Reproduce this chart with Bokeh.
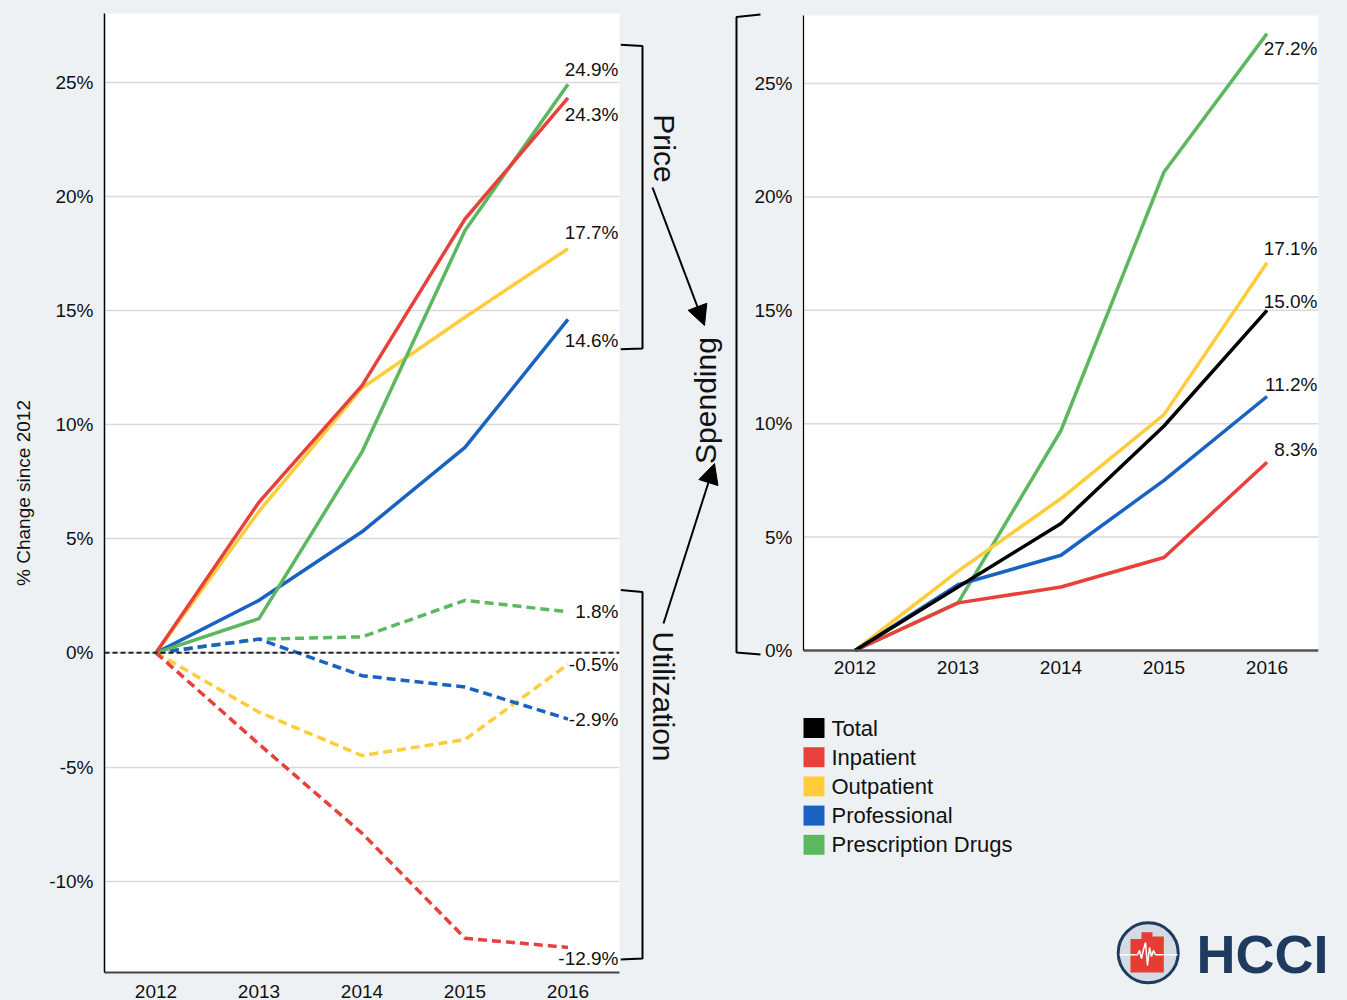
import math
from bokeh.plotting import figure
from bokeh.layouts import row, column
from bokeh.models import (Range1d, FixedTicker, PrintfTickFormatter, Span, Arrow,
                          NormalHead, ColumnDataSource, BoxAnnotation, LinearAxis)
from bokeh.core.properties import value
from bokeh.embed import file_html
from bokeh.resources import INLINE

# ---------------- data ----------------
years = [2012, 2013, 2014, 2015, 2016]
series = ["Total", "Inpatient", "Outpatient", "Professional", "Prescription Drugs"]

price_inpatient = [0, 6.6, 11.7, 19.0, 24.3]
price_outpatient = [0, 6.2, 11.6, 14.7, 17.7]
price_professional = [0, 2.3, 5.3, 9.0, 14.6]
price_rx = [0, 1.5, 8.8, 18.5, 24.9]

util_inpatient = [0, -4.0, -7.9, -12.5, -12.9]
util_outpatient = [0, -2.6, -4.5, -3.8, -0.5]
util_professional = [0, 0.6, -1.0, -1.5, -2.9]
util_rx = [0, 0.6, 0.7, 2.3, 1.8]

spend_total = [0, 2.8, 5.6, 9.9, 15.0]
spend_inpatient = [0, 2.1, 2.8, 4.1, 8.3]
spend_outpatient = [0, 3.5, 6.7, 10.4, 17.1]
spend_professional = [0, 2.9, 4.2, 7.5, 11.2]
spend_rx = [0, 2.1, 9.7, 21.1, 27.2]

left_ticks = [-10, -5, 0, 5, 10, 15, 20, 25]
right_ticks = [0, 5, 10, 15, 20, 25]
y_title = "% Change since 2012"
price_word, util_word, spend_word = "Price", "Utilization", "Spending"
brand = "HCCI"

# ---------------- styles ----------------
BG = "#edf1f4"
FONT = "Liberation Sans"
colors = {"Total": "#000000", "Inpatient": "#e8403a", "Outpatient": "#ffcd3a",
          "Professional": "#1862c2", "Prescription Drugs": "#5cb85f"}
GRID = "#d9d9d9"
TXT = "#111111"
LW = 3.5
X_LO, X_HI = 2011.5, 2016.5


def style_axis(ax):
    ax.major_tick_line_color = None
    ax.minor_tick_line_color = None
    ax.major_label_text_font = FONT
    ax.major_label_text_font_size = "19px"
    ax.major_label_text_color = TXT


def style_axes(p):
    p.xaxis.ticker = FixedTicker(ticks=years)
    p.xaxis.formatter = PrintfTickFormatter(format="%d")
    p.yaxis.formatter = PrintfTickFormatter(format="%d%%")
    for ax in (p.xaxis[0], p.yaxis[0]):
        style_axis(ax)
    p.xaxis.major_label_standoff = 6
    p.yaxis.major_label_standoff = 5
    p.yaxis.axis_line_color = "black"
    p.yaxis.axis_line_width = 1.5
    p.xaxis.axis_line_color = "#444444"
    p.xaxis.axis_line_width = 2
    p.border_fill_color = BG
    p.outline_line_color = None


def blank_fig(p):
    p.axis.visible = False
    p.grid.visible = False
    p.outline_line_color = None
    p.background_fill_color = BG
    p.border_fill_color = BG


def Y(sy):
    return 1000 - sy


# ---------------- left chart ----------------
left = figure(width=620, height=1000, x_range=Range1d(X_LO, X_HI),
              y_range=Range1d(-14, 28), output_backend="svg", toolbar_location=None,
              min_border_left=104, min_border_right=1, min_border_top=13,
              min_border_bottom=27, frame_align=False)
style_axes(left)
left.background_fill_color = "white"
left.xgrid.grid_line_color = None
left.ygrid.grid_line_color = GRID
left.ygrid.grid_line_width = 1.5
left.yaxis.ticker = FixedTicker(ticks=left_ticks)
left.yaxis.axis_label = y_title
left.yaxis.axis_label_text_font = FONT
left.yaxis.axis_label_text_font_style = "normal"
left.yaxis.axis_label_text_font_size = "19px"
left.yaxis.axis_label_text_color = TXT
left.yaxis.axis_label_standoff = 12

left.add_layout(Span(location=0, dimension="width", line_color="#222222",
                     line_width=2, line_dash="5 3"))

util = [("Inpatient", util_inpatient, -11), ("Outpatient", util_outpatient, 0),
        ("Professional", util_professional, 0), ("Prescription Drugs", util_rx, 0)]
for name, vals, _ in [util[3], util[1], util[2], util[0]]:
    left.line(years, vals, line_color=colors[name], line_width=LW, line_dash="9 5")

price = [("Outpatient", price_outpatient, 16), ("Professional", price_professional, -21),
         ("Prescription Drugs", price_rx, 15), ("Inpatient", price_inpatient, -17)]
for name, vals, _ in price:
    left.line(years, vals, line_color=colors[name], line_width=LW)

lab_src = ColumnDataSource(dict(
    x=[X_HI] * 8,
    y=[v[-1] for _, v, _ in price] + [v[-1] for _, v, _ in util],
    t=["%.1f%%" % v[-1] for _, v, _ in price] + ["%.1f%%" % v[-1] for _, v, _ in util],
    dy=[-o for _, _, o in price] + [-o for _, _, o in util],
))
left.text(x="x", y="y", text="t", y_offset="dy", x_offset=-1, source=lab_src,
          text_font=value(FONT), text_font_size="19px", text_color=TXT,
          text_align="right", text_baseline="middle")

# ---------------- middle annotation panel (pixel coordinates) ----------------
MID_X0, MID_X1 = 620, 730
mid = figure(width=MID_X1 - MID_X0, height=1000, x_range=Range1d(MID_X0, MID_X1),
             y_range=Range1d(0, 1000), output_backend="svg", toolbar_location=None,
             min_border=0, frame_align=False)
blank_fig(mid)

brackets = [
    ([620, 642, 642, 620], [44.3, 45.5, 348, 348.8]),
    ([620, 642, 642, 620], [589.5, 591.5, 958, 959]),
]
for bx, by in brackets:
    mid.line(bx, [Y(v) for v in by], line_color="black", line_width=2)

mid.add_layout(Arrow(end=NormalHead(size=20, fill_color="black", line_color="black"),
                     x_start=652, y_start=Y(187), x_end=704, y_end=Y(325),
                     line_color="black", line_width=2))
mid.add_layout(Arrow(end=NormalHead(size=20, fill_color="black", line_color="black"),
                     x_start=663, y_start=Y(623), x_end=714, y_end=Y(463),
                     line_color="black", line_width=2))

mid.text(x=[664, 663], y=[Y(148), Y(696)], text=[price_word, util_word],
         angle=-math.pi / 2, text_font=value(FONT), text_font_size="30px",
         text_color=TXT, text_align="center", text_baseline="middle")
mid.text(x=[705], y=[Y(400)], text=[spend_word], angle=math.pi / 2,
         text_font=value(FONT), text_font_size="30px", text_color=TXT,
         text_align="center", text_baseline="middle")

# ---------------- right chart ----------------
RW = 1347 - MID_X1
PLOT_L, PLOT_R, PLOT_T, PLOT_B = 803, 1318, 15, 650     # pixel box of the white plot area
PX_PER_X = (PLOT_R - PLOT_L) / (X_HI - X_LO)
PX_PER_Y = (PLOT_B - PLOT_T) / 28.0
FR_T, FR_B = 10, 680                                      # frame in pixels
right = figure(width=RW, height=680,
               x_range=Range1d(X_LO - (PLOT_L - MID_X1) / PX_PER_X, X_HI),
               y_range=Range1d(-(FR_B - PLOT_B) / PX_PER_Y, (PLOT_B - FR_T) / PX_PER_Y),
               output_backend="svg", toolbar_location=None,
               min_border_left=0, min_border_right=1347 - PLOT_R,
               min_border_top=FR_T, min_border_bottom=0, frame_align=False)
style_axes(right)
right.background_fill_color = BG
right.grid.visible = False
right.yaxis.ticker = FixedTicker(ticks=right_ticks[1:])
right.yaxis.fixed_location = X_LO
right.yaxis.bounds = (0, 28)
right.yaxis.axis_line_width = 1.2
right.xaxis.fixed_location = 0
right.xaxis.bounds = (X_LO, X_HI)
right.xaxis.axis_line_color = "#555555"
right.xaxis.axis_line_width = 2.5
right.xaxis.major_label_standoff = 4

# the "0%" label sits just above the baseline, as in the original
zero_axis = LinearAxis(ticker=FixedTicker(ticks=right_ticks[:1]),
                       formatter=PrintfTickFormatter(format="%d%%"),
                       fixed_location=X_LO, axis_line_color=None,
                       major_label_standoff=5, major_label_text_baseline="bottom")
style_axis(zero_axis)
right.add_layout(zero_axis, "left")

right.add_layout(BoxAnnotation(left=X_LO, right=X_HI, bottom=0, top=28,
                               fill_color="white", fill_alpha=1, line_color=None,
                               level="underlay"))
right.segment(x0=[X_LO] * len(right_ticks), x1=[X_HI] * len(right_ticks),
              y0=right_ticks, y1=right_ticks, line_color=GRID, line_width=1.5)


def rx(sx):
    return X_LO + (sx - PLOT_L) / PX_PER_X


def ry(sy):
    return (PLOT_B - sy) / PX_PER_Y


bx = [760, 736, 736, 760]
by = [14, 16.5, 652, 654]
right.line([rx(v) for v in bx], [ry(v) for v in by], line_color="black", line_width=2)

spend = [("Prescription Drugs", spend_rx, -15), ("Inpatient", spend_inpatient, 13),
         ("Outpatient", spend_outpatient, 14), ("Professional", spend_professional, 12),
         ("Total", spend_total, 9)]
for name, vals, _ in spend:
    right.line(years, vals, line_color=colors[name], line_width=LW)

rsrc = ColumnDataSource(dict(
    x=[X_HI] * len(spend),
    y=[v[-1] for _, v, _ in spend],
    t=["%.1f%%" % v[-1] for _, v, _ in spend],
    dy=[-o for _, _, o in spend],
))
right.text(x="x", y="y", text="t", y_offset="dy", x_offset=-1, source=rsrc,
           text_font=value(FONT), text_font_size="19px", text_color=TXT,
           text_align="right", text_baseline="middle")

# ---------------- legend + logo panel (pixel coordinates) ----------------
bot = figure(width=RW, height=320, x_range=Range1d(MID_X1, 1347), y_range=Range1d(0, 320),
             output_backend="svg", toolbar_location=None, min_border=0, frame_align=False)
blank_fig(bot)

leg_y = [Y(727.5 + 29.2 * i) for i in range(len(series))]
bot.rect(x=[813.5] * len(series), y=leg_y, width=21, height=20,
         fill_color=[colors[s] for s in series], line_color=None)
bot.text(x=[831] * len(series), y=leg_y, text=series, text_font=value(FONT),
         text_font_size="22px", text_color=TXT, text_align="left",
         text_baseline="middle")

# logo
bot.circle(x=[1147.7], y=[Y(952.3)], radius=30, fill_color="#d3dbe4",
           line_color="#1e3a5f", line_width=3)
bot.line([1119, 1177], [Y(954.3)] * 2, line_color="white", line_width=1.5)
shape_x = [1130, 1130, 1141, 1141, 1152, 1152, 1163.3, 1163.3]
shape_y = [972, 938.5, 938.5, 931.7, 931.7, 936, 936, 972]
bot.patch(shape_x, [Y(v) for v in shape_y], fill_color="#e53c33", line_color=None)
hb_x = [1130, 1137, 1139, 1141, 1143, 1145, 1147, 1149, 1151, 1153, 1155, 1163]
hb_y = [954.3, 954.3, 950, 958, 949, 942, 965, 947, 956, 950, 954.3, 954.3]
bot.line(hb_x, [Y(v) for v in hb_y], line_color="white", line_width=1.5)
bot.text(x=[1196], y=[Y(953)], text=[brand], text_font=value(FONT),
         text_font_size="54px", text_font_style="bold", text_color="#1e3a5f",
         text_align="left", text_baseline="middle")

layout = row(left, mid, column(right, bot, spacing=0), spacing=0)
html = file_html(layout, INLINE, title="HCCI")
html = html.replace("<head>", "<head><style>html,body{margin:0;padding:0;background:%s;}</style>" % BG, 1)
open("out.html", "w").write(html)
